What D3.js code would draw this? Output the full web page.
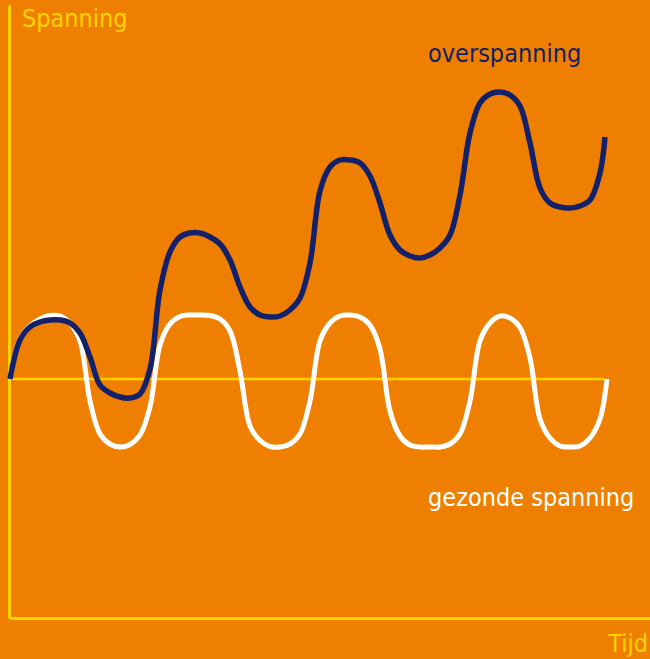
<!DOCTYPE html>
<html>
<head>
<meta charset="utf-8">
<script src="https://cdn.jsdelivr.net/npm/d3@7"></script>
<style>
  html, body { margin: 0; padding: 0; background: #ef7f00; }
  svg { display: block; }
  text { font-family: "DejaVu Sans Condensed", "DejaVu Sans", sans-serif; font-size: 25px; }
</style>
</head>
<body>
<svg id="chart" width="650" height="659"></svg>
<script>
// time (t) and voltage (v) every 10 units, baseline voltage = 0
const healthyT = [0, 10, 20, 30, 40, 50, 60, 70, 80, 90, 100, 110, 120, 130, 140, 150, 160, 170, 180, 190, 200, 210, 220, 230, 240, 250, 260, 270, 280, 290, 300, 310, 320, 330, 340, 350, 360, 370, 380, 390, 400, 410, 420, 430, 440, 450, 460, 470, 480, 490, 500, 510, 520, 530, 540, 550, 560, 570, 580, 590, 597];
const healthyV = [0, 40, 53, 60, 63.5, 63, 56, 38, -22, -55, -65, -68, -65.5, -56, -28, 34, 55, 62.5, 64, 64, 63.5, 60, 48, 8, -47, -61.5, -67.5, -68, -65, -55, -22, 38, 56, 63, 64, 62, 54, 30, -32, -57, -66, -68, -68, -68, -65, -55, -22, 38, 56, 63, 61, 51.5, 21, -40, -59, -67, -68, -67, -59, -40, 0];

const overT = [0, 10, 20, 30, 40, 50, 60, 70, 80, 90, 100, 110, 120, 130, 140, 150, 160, 170, 180, 190, 200, 210, 220, 230, 240, 250, 260, 270, 280, 290, 300, 310, 320, 330, 340, 350, 360, 370, 380, 390, 400, 410, 420, 430, 440, 450, 460, 470, 480, 490, 500, 510, 520, 530, 540, 550, 560, 570, 580, 590, 595];
const overV = [0, 39, 52, 57, 59, 59, 56, 46, 22, -6, -14, -18, -19, -15, 10, 89, 127, 142, 146, 146, 142, 135, 119, 92, 72, 64, 62, 63, 69, 81, 116, 188, 212, 219, 219, 216, 203, 176, 144, 129, 123, 121, 124, 131, 144, 184, 246, 276, 285, 287, 284, 273, 236, 191, 176, 172, 171, 173, 179, 206, 242];

const labels = ['Spanning', 'Tijd', 'overspanning', 'gezonde spanning'];

const width = 650, height = 659;
const svg = d3.select('#chart');

const x = d3.scaleLinear().domain([0, 640]).range([10, 650]);
const y = d3.scaleLinear().domain([-239, 374]).range([618, 5]);

const healthy = healthyT.map((t, i) => ({ t, v: healthyV[i] }));
const over = overT.map((t, i) => ({ t, v: overV[i] }));

// axes without ticks
svg.append('g')
  .attr('transform', `translate(${x(0) - 1},0)`)
  .call(d3.axisLeft(y).tickValues([]).tickSizeOuter(0));
svg.append('g')
  .attr('transform', `translate(0,${y.range()[0]})`)
  .call(d3.axisBottom(x).tickValues([]).tickSizeOuter(0));
svg.selectAll('.domain')
  .attr('stroke', '#ffd200')
  .attr('stroke-width', 3);

// zero line
svg.append('line')
  .attr('x1', x(0))
  .attr('x2', x(d3.max(healthyT) - 3))
  .attr('y1', y(0))
  .attr('y2', y(0))
  .attr('stroke', '#ffd200')
  .attr('stroke-width', 2.5);

const line = d3.line()
  .x(d => x(d.t))
  .y(d => y(d.v))
  .curve(d3.curveCatmullRom.alpha(0.5));

svg.append('path')
  .datum(healthy)
  .attr('fill', 'none')
  .attr('stroke', '#ffffff')
  .attr('stroke-width', 5)
  .attr('d', line);

svg.append('path')
  .datum(over)
  .attr('fill', 'none')
  .attr('stroke', '#13216a')
  .attr('stroke-width', 5.5)
  .attr('d', line);

svg.append('text')
  .attr('x', 22)
  .attr('y', 27)
  .attr('fill', '#ffd200')
  .text(labels[0]);

svg.append('text')
  .attr('x', 648)
  .attr('y', 652)
  .attr('text-anchor', 'end')
  .attr('fill', '#ffd200')
  .text(labels[1]);

svg.append('text')
  .attr('x', 428)
  .attr('y', 62)
  .attr('fill', '#13216a')
  .text(labels[2]);

svg.append('text')
  .attr('x', 428)
  .attr('y', 506)
  .attr('fill', '#ffffff')
  .text(labels[3]);
</script>
</body>
</html>
